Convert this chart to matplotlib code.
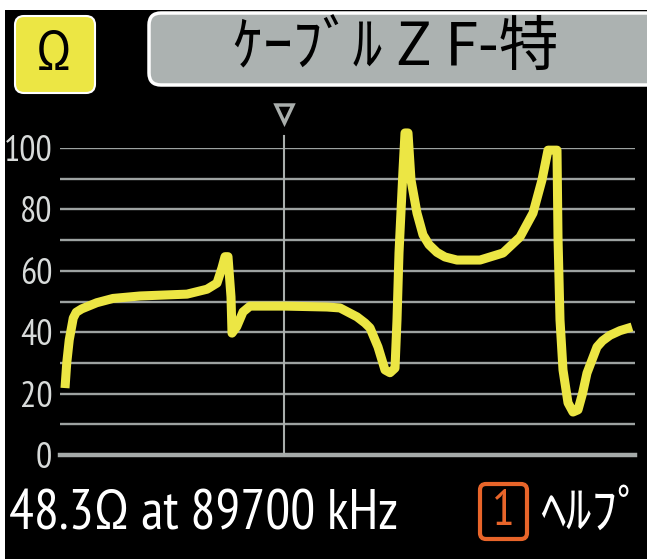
import matplotlib
matplotlib.use("Agg")
import matplotlib.pyplot as plt
from matplotlib.patches import FancyBboxPatch, Polygon, Rectangle

title = "ｹｰﾌﾞﾙ Z F-特"
unit = "Ω"
readout = "48.3Ω at 89700 kHz"
help_key = "1"
help_label = "ﾍﾙﾌﾟ"
cursor_khz = 89700

freq_khz = [2000, 2700, 3700, 5300, 6500, 8700, 14700, 21200, 32000, 50800, 58800, 62800, 64800,
            66000, 67200, 68400, 68800, 70700, 73200, 76000, 90000, 106800, 112000,
            118800, 122000, 124000, 127200, 130000, 132000, 134000, 134800, 135600, 137200,
            138000, 139200, 140400, 142800, 145200, 147600, 150800, 154000, 158800, 168000,
            177200, 184000, 189200, 192800, 195200, 198800, 199200, 200000, 201200, 203200,
            205200, 207200, 209000, 210800, 214800, 217000, 220000, 224000, 228800]
impedance = [21.8, 30, 37.5, 44.6, 46.5, 47.6, 49.6, 51, 51.8, 52.4, 54, 56, 61,
             64.6, 64.6, 51.5, 39.7, 41.8, 46.6, 48.5, 48.5, 48.2, 47.9,
             45, 43, 41.4, 35.2, 27.7, 26.8, 28.3, 44, 65.8, 92.8,
             104.9, 104.9, 89.6, 78.8, 71.7, 68.5, 66, 64.5, 63.5, 63.5,
             65.8, 71, 78.8, 89.6, 99.3, 99.3, 71, 44, 27.7, 17,
             14, 14.7, 20, 26.7, 35.2, 37.2, 39, 40.5, 41.7]
y_ticks = [0, 20, 40, 60, 80, 100]
grid_levels = [10, 20, 30, 40, 50, 60, 70, 80, 90, 100]

W, H = 647, 559
fig = plt.figure(figsize=(W / 100, H / 100), dpi=100, facecolor="black")

JP = ["Noto Sans CJK JP", "DejaVu Sans"]
NARROW = ["PT Sans Narrow", "Roboto Condensed", "DejaVu Sans"]

bg = fig.add_axes([0, 0, 1, 1])
bg.set_xlim(0, W)
bg.set_ylim(H, 0)
bg.axis("off")
bg.add_patch(Rectangle((0, 0), W, 10, fc="white", ec="none"))
bg.add_patch(Rectangle((0, 0), 5, H, fc="white", ec="none"))
bg.add_patch(FancyBboxPatch((22, 23), 66, 63, boxstyle="round,pad=7,rounding_size=9",
                            fc="#ece644", ec="white", lw=1.5))
bg.add_patch(FancyBboxPatch((157, 21), 520, 56, boxstyle="round,pad=8,rounding_size=12",
                            fc="#acb2b1", ec="white", lw=2.5))
bg.text(54, 55, unit, fontsize=40, family=NARROW, color="black", ha="center", va="center")
bg.text(396, 49, title, fontsize=43, family=JP, color="black", ha="center", va="center")
bg.add_patch(Polygon([(276, 105), (293, 105), (284.5, 123)], closed=True, fc="black",
                     ec="#a9aeac", lw=2.5))
bg.text(9, 530, readout, fontsize=40, family=NARROW, color="white", ha="left", va="baseline")
bg.add_patch(FancyBboxPatch((485, 489), 37, 45, boxstyle="round,pad=5,rounding_size=6",
                            fc="black", ec="#e8652a", lw=3))
bg.text(503, 512, help_key, fontsize=36, family=NARROW, color="#e8652a", ha="center", va="center")
bg.text(592, 513, help_label, fontsize=37, family=JP, color="white", ha="center", va="center")

ax = fig.add_axes([60 / W, 1 - 455 / H, 575 / W, 307 / H])
ax.patch.set_alpha(0)
ax.set_xlim(0, 230000)
ax.set_ylim(0, 100)
for s in ax.spines.values():
    s.set_visible(False)
ax.set_xticks([])
ax.set_yticks(y_ticks)
ax.tick_params(axis="y", length=0, pad=5.5, labelsize=26, labelcolor="#d8dbda")
for lab in ax.get_yticklabels():
    lab.set_family(NARROW)
for lv in grid_levels:
    ax.axhline(lv, color="#9da2a1", lw=1.7, zorder=1)
ax.axhline(0, color="#a5aaa9", lw=3.2, zorder=1, clip_on=False)
ax.plot([cursor_khz, cursor_khz], [0, 104], color="#a9aeac", lw=1.5, zorder=2, clip_on=False)
ax.plot(freq_khz, impedance, color="#ece644", lw=6.5, zorder=3,
        clip_on=False, solid_joinstyle="round", solid_capstyle="butt")

fig.savefig("out.png", dpi=100, facecolor="black")
